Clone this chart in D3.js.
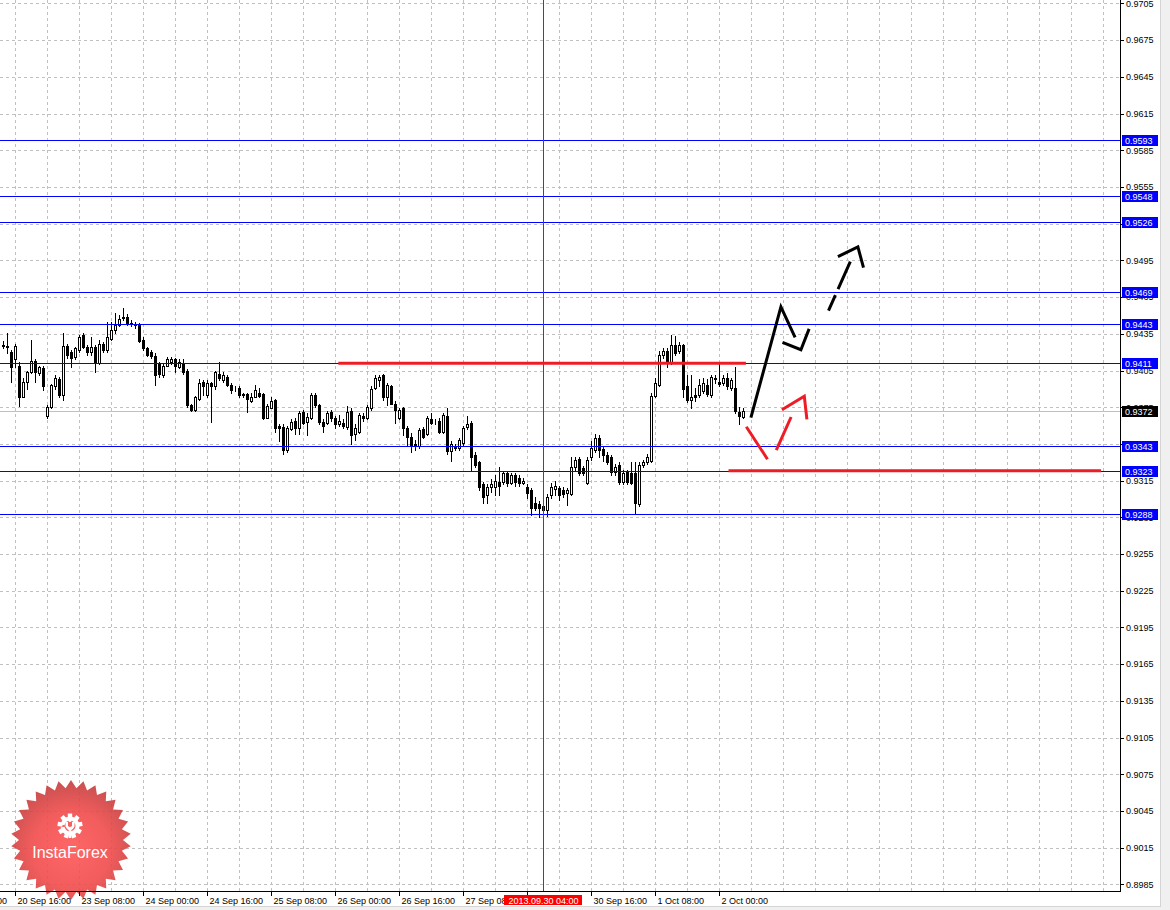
<!DOCTYPE html>
<html><head><meta charset="utf-8">
<script src="https://cdn.jsdelivr.net/npm/d3@7"></script>
<style>
html,body{margin:0;padding:0;background:#fff;overflow:hidden;}
svg{display:block;}
text{font-family:"Liberation Sans",Arial,sans-serif;}
</style></head><body>
<svg id="chart" width="1170" height="910"></svg>
<script>
// ---------- DATA (USDCHF H1) ----------
const opens = [
0.9425,0.9425,0.9420,0.9414,0.9409,0.9383,0.9396,0.9404,0.9413,0.9403,
0.9407,0.9368,0.9375,0.9392,0.9398,0.9385,0.9425,0.9420,0.9416,0.9422,
0.9434,0.9424,0.9420,0.9424,0.9411,0.9427,0.9422,0.9431,0.9438,0.9442,
0.9448,0.9449,0.9444,0.9443,0.9442,0.9430,0.9423,0.9420,0.9417,0.9410,
0.9401,0.9409,0.9412,0.9414,0.9408,0.9411,0.9405,0.9377,0.9373,0.9382,
0.9396,0.9385,0.9395,0.9392,0.9402,0.9397,0.9400,0.9393,0.9390,0.9391,
0.9386,0.9386,0.9380,0.9383,0.9387,0.9386,0.9366,0.9374,0.9381,0.9360,
0.9359,0.9340,0.9357,0.9364,0.9358,0.9371,0.9363,0.9366,0.9385,0.9377,
0.9363,0.9362,0.9371,0.9366,0.9361,0.9362,0.9359,0.9372,0.9353,0.9355,
0.9368,0.9366,0.9374,0.9391,0.9397,0.9401,0.9383,0.9392,0.9378,0.9366,
0.9374,0.9358,0.9351,0.9345,0.9343,0.9357,0.9353,0.9365,0.9363,0.9364,
0.9355,0.9368,0.9339,0.9343,0.9342,0.9346,0.9359,0.9362,0.9336,0.9330,
0.9312,0.9303,0.9310,0.9310,0.9314,0.9314,0.9321,0.9313,0.9320,0.9317,
0.9313,0.9310,0.9307,0.9297,0.9296,0.9294,0.9291,0.9303,0.9308,0.9309,
0.9307,0.9305,0.9304,0.9326,0.9333,0.9325,0.9313,0.9334,0.9340,0.9350,
0.9341,0.9336,0.9334,0.9322,0.9328,0.9314,0.9322,0.9321,0.9321,0.9296,
0.9328,0.9330,0.9331,0.9384,0.9393,0.9418,0.9421,0.9412,0.9426,0.9421,
0.9426,0.9392,0.9381,0.9385,0.9385,0.9388,0.9393,0.9385,0.9399,0.9396,
0.9395,0.9399,0.9391,0.9391,0.9371,0.9367];
const highs = [
0.9429,0.9436,0.9422,0.9427,0.9412,0.9399,0.9405,0.9430,0.9414,0.9409,
0.9409,0.9377,0.9394,0.9401,0.9400,0.9436,0.9427,0.9422,0.9424,0.9434,
0.9436,0.9426,0.9432,0.9426,0.9430,0.9428,0.9445,0.9445,0.9452,0.9450,
0.9456,0.9451,0.9446,0.9445,0.9444,0.9432,0.9424,0.9422,0.9419,0.9412,
0.9410,0.9416,0.9416,0.9415,0.9414,0.9414,0.9406,0.9378,0.9384,0.9398,
0.9397,0.9397,0.9396,0.9405,0.9412,0.9404,0.9401,0.9395,0.9392,0.9392,
0.9387,0.9387,0.9387,0.9393,0.9391,0.9387,0.9378,0.9383,0.9382,0.9361,
0.9361,0.9360,0.9365,0.9366,0.9372,0.9373,0.9370,0.9387,0.9387,0.9378,
0.9365,0.9372,0.9373,0.9368,0.9369,0.9365,0.9376,0.9374,0.9361,0.9370,
0.9370,0.9377,0.9392,0.9401,0.9401,0.9402,0.9395,0.9393,0.9380,0.9374,
0.9375,0.9360,0.9354,0.9348,0.9358,0.9359,0.9368,0.9370,0.9365,0.9366,
0.9370,0.9374,0.9347,0.9345,0.9350,0.9360,0.9368,0.9364,0.9338,0.9331,
0.9314,0.9312,0.9316,0.9320,0.9326,0.9323,0.9322,0.9321,0.9321,0.9320,
0.9317,0.9312,0.9309,0.9302,0.9298,0.9297,0.9304,0.9313,0.9315,0.9311,
0.9310,0.9309,0.9334,0.9334,0.9334,0.9327,0.9334,0.9347,0.9353,0.9352,
0.9343,0.9338,0.9336,0.9329,0.9330,0.9324,0.9324,0.9330,0.9330,0.9330,
0.9332,0.9337,0.9387,0.9399,0.9421,0.9423,0.9423,0.9434,0.9433,0.9428,
0.9427,0.9401,0.9401,0.9391,0.9398,0.9399,0.9398,0.9401,0.9401,0.9411,
0.9401,0.9403,0.9399,0.9408,0.9375,0.9374];
const lows = [
0.9423,0.9419,0.9396,0.9408,0.9376,0.9383,0.9390,0.9403,0.9396,0.9401,
0.9389,0.9366,0.9374,0.9390,0.9383,0.9381,0.9415,0.9408,0.9414,0.9420,
0.9423,0.9418,0.9418,0.9404,0.9410,0.9420,0.9420,0.9430,0.9436,0.9441,
0.9446,0.9442,0.9441,0.9440,0.9428,0.9422,0.9417,0.9415,0.9393,0.9400,
0.9400,0.9409,0.9410,0.9404,0.9407,0.9402,0.9375,0.9372,0.9372,0.9381,
0.9385,0.9383,0.9363,0.9390,0.9397,0.9396,0.9392,0.9387,0.9388,0.9383,
0.9383,0.9371,0.9379,0.9383,0.9383,0.9365,0.9366,0.9374,0.9355,0.9347,
0.9337,0.9338,0.9356,0.9353,0.9353,0.9361,0.9352,0.9365,0.9375,0.9361,
0.9355,0.9361,0.9364,0.9358,0.9360,0.9358,0.9357,0.9345,0.9348,0.9354,
0.9364,0.9365,0.9373,0.9390,0.9392,0.9381,0.9377,0.9378,0.9362,0.9365,
0.9352,0.9344,0.9338,0.9340,0.9342,0.9350,0.9352,0.9361,0.9361,0.9354,
0.9354,0.9337,0.9331,0.9340,0.9340,0.9344,0.9357,0.9324,0.9326,0.9307,
0.9297,0.9297,0.9306,0.9303,0.9303,0.9312,0.9311,0.9312,0.9311,0.9311,
0.9312,0.9301,0.9287,0.9291,0.9285,0.9285,0.9286,0.9301,0.9303,0.9299,
0.9302,0.9295,0.9303,0.9324,0.9320,0.9320,0.9312,0.9332,0.9338,0.9334,
0.9331,0.9329,0.9320,0.9320,0.9312,0.9312,0.9312,0.9312,0.9288,0.9294,
0.9326,0.9329,0.9330,0.9383,0.9392,0.9415,0.9408,0.9410,0.9418,0.9419,
0.9383,0.9379,0.9374,0.9380,0.9383,0.9387,0.9384,0.9383,0.9395,0.9392,
0.9393,0.9390,0.9389,0.9370,0.9361,0.9366];
const closes = [
0.9426,0.9424,0.9408,0.9425,0.9383,0.9396,0.9404,0.9413,0.9404,0.9408,
0.9392,0.9375,0.9393,0.9399,0.9385,0.9425,0.9418,0.9415,0.9423,0.9432,
0.9424,0.9420,0.9424,0.9411,0.9427,0.9422,0.9432,0.9438,0.9442,0.9447,
0.9449,0.9444,0.9443,0.9442,0.9429,0.9423,0.9418,0.9417,0.9401,0.9402,
0.9409,0.9414,0.9414,0.9409,0.9412,0.9404,0.9377,0.9373,0.9383,0.9395,
0.9392,0.9395,0.9392,0.9404,0.9399,0.9401,0.9393,0.9389,0.9390,0.9385,
0.9385,0.9382,0.9383,0.9389,0.9384,0.9366,0.9376,0.9380,0.9358,0.9358,
0.9340,0.9358,0.9363,0.9358,0.9370,0.9362,0.9367,0.9385,0.9377,0.9363,
0.9360,0.9370,0.9366,0.9361,0.9364,0.9360,0.9371,0.9352,0.9358,0.9369,
0.9366,0.9375,0.9390,0.9399,0.9400,0.9383,0.9393,0.9378,0.9373,0.9373,
0.9358,0.9351,0.9344,0.9343,0.9356,0.9351,0.9366,0.9362,0.9363,0.9355,
0.9369,0.9339,0.9345,0.9342,0.9348,0.9358,0.9361,0.9334,0.9328,0.9310,
0.9302,0.9310,0.9312,0.9315,0.9311,0.9321,0.9313,0.9320,0.9314,0.9313,
0.9315,0.9305,0.9293,0.9293,0.9293,0.9291,0.9302,0.9310,0.9311,0.9303,
0.9304,0.9307,0.9326,0.9332,0.9321,0.9321,0.9332,0.9342,0.9350,0.9340,
0.9336,0.9330,0.9322,0.9326,0.9314,0.9321,0.9314,0.9313,0.9297,0.9328,
0.9330,0.9334,0.9384,0.9395,0.9418,0.9421,0.9413,0.9426,0.9419,0.9426,
0.9390,0.9381,0.9383,0.9383,0.9393,0.9395,0.9386,0.9400,0.9398,0.9394,
0.9399,0.9392,0.9397,0.9372,0.9368,0.9372];

const priceTicks = [0.9705,0.9675,0.9645,0.9615,0.9585,0.9555,0.9525,0.9495,0.9465,0.9435,
  0.9405,0.9375,0.9345,0.9315,0.9285,0.9255,0.9225,0.9195,0.9165,0.9135,0.9105,0.9075,0.9045,0.9015,0.8985];
// bar index of each labelled time tick (bar 0 = 20 Sep 13:00)
const timeTickBars   = [-13, 3, 19, 35, 51, 67, 83, 99, 115, 147, 163, 179];
const timeTickLabels = ["20 Sep 00:00","20 Sep 16:00","23 Sep 08:00","24 Sep 00:00","24 Sep 16:00",
  "25 Sep 08:00","26 Sep 00:00","26 Sep 16:00","27 Sep 08:00","30 Sep 16:00","1 Oct 08:00","2 Oct 00:00"];
const hiddenTickBars = [131];   // "30 Sep 00:00" covered by the marker label
const levels = [0.9593,0.9548,0.9526,0.9469,0.9443,0.9411,0.9343,0.9323,0.9288];
const bidPrice = 0.9372;
const markerBar = 135;
const markerLabel = "2013.09.30 04:00";
// annotations: [bar, price]
const redSegments = [[[83.7,0.9411],[185.6,0.9411]],[[181.25,0.9323],[274.4,0.9323]]];
const blackStroke = [[186.85,0.93665],[194.35,0.9457],[197.9,0.9432]];
const blackHead = [[194.75,0.9428],[199.35,0.9422],[201.4,0.9439]];
const blackDashed = [[206.25,0.9454],[211.7,0.9494]];
const blackDashedHead = [[208.6,0.9498],[213.6,0.9506],[215.0,0.9489]];
const redDown = [[185.7,0.9359],[191.0,0.93325]];
const redUp = [[193.2,0.9340],[196.9,0.9367]];
const redHead = [[194.6,0.9373],[200.2,0.9384],[200.85,0.9365]];

// ---------- LAYOUT ----------
const plotRight = 1120, plotBottom = 891;
const svg = d3.select("#chart");
const x = d3.scaleLinear().domain([0,185]).range([3.5,743.5]);
const y = d3.scaleLinear().domain([0.8985,0.9705]).range([884.46,3.4]);
const py = p => Math.round(y(p)) + 0.5;

// window chrome
svg.append("rect").attr("x",0).attr("y",0).attr("width",1170).attr("height",910).attr("fill","#fff");
svg.append("rect").attr("x",1161).attr("y",0).attr("width",9).attr("height",910).attr("fill","#f0f0f0");
svg.append("line").attr("x1",1160.5).attr("x2",1160.5).attr("y1",0).attr("y2",907).attr("stroke","#d4d4d4");
svg.append("rect").attr("x",0).attr("y",907).attr("width",1170).attr("height",3).attr("fill","#f0f0f0");
svg.append("line").attr("x1",0).attr("x2",1161).attr("y1",906.5).attr("y2",906.5).attr("stroke","#d4d4d4");

const plot = svg.append("g");
// grid
const gridBars = d3.range(-5, 276, 8);
plot.selectAll(".vg").data(gridBars).join("line")
  .attr("x1",d=>x(d)).attr("x2",d=>x(d)).attr("y1",0).attr("y2",plotBottom)
  .attr("stroke","#c0c0c0").attr("stroke-dasharray","3,3");
plot.selectAll(".hg").data(priceTicks).join("line")
  .attr("x1",0).attr("x2",plotRight).attr("y1",d=>py(d)).attr("y2",d=>py(d))
  .attr("stroke","#c0c0c0").attr("stroke-dasharray","3,3");

// bid line
plot.append("line").attr("x1",0).attr("x2",plotRight).attr("y1",py(bidPrice)).attr("y2",py(bidPrice))
  .attr("stroke","#c0c0c0");

// candles
const bars = d3.range(opens.length).map(i=>({i,o:opens[i],h:highs[i],l:lows[i],c:closes[i]}));
const cg = plot.append("g");
cg.selectAll(".wick").data(bars).join("line")
  .attr("x1",d=>x(d.i)).attr("x2",d=>x(d.i))
  .attr("y1",d=>Math.round(y(d.h))).attr("y2",d=>Math.round(y(d.l))+1)
  .attr("stroke","#000");
cg.selectAll(".body").data(bars).join("rect")
  .attr("x",d=>x(d.i)-1).attr("width",2)
  .attr("y",d=>Math.round(y(Math.max(d.o,d.c)))+0.5)
  .attr("height",d=>Math.max(0,Math.round(y(Math.min(d.o,d.c)))-Math.round(y(Math.max(d.o,d.c)))))
  .attr("fill",d=>d.c>=d.o?"#fff":"#000").attr("stroke","#000");

// level lines
plot.selectAll(".lv").data(levels).join("line")
  .attr("x1",0).attr("x2",plotRight).attr("y1",d=>py(d)).attr("y2",d=>py(d)).attr("stroke","#0000ff");

// vertical marker
plot.append("line").attr("x1",x(markerBar)).attr("x2",x(markerBar)).attr("y1",0).attr("y2",plotBottom)
  .attr("stroke","#ff0000");

// annotations
const line = d3.line().x(d=>x(d[0])).y(d=>y(d[1]));
const ag = plot.append("g").attr("fill","none").attr("stroke-linecap","butt").attr("stroke-linejoin","miter");
redSegments.forEach(s=>ag.append("path").attr("d",line(s)).attr("stroke","#ee1c25").attr("stroke-width",3));
[blackStroke,blackHead,blackDashedHead].forEach(s=>ag.append("path").attr("d",line(s)).attr("stroke","#000").attr("stroke-width",3));
ag.append("path").attr("d",line(blackDashed)).attr("stroke","#000").attr("stroke-width",3).attr("stroke-dasharray","17,6.5,40");
[redDown,redUp,redHead].forEach(s=>ag.append("path").attr("d",line(s)).attr("stroke","#ee1c25").attr("stroke-width",3));

// logo (InstaForex starburst)
const defs = svg.append("defs");
const grad = defs.append("radialGradient").attr("id","lg").attr("cx","50%").attr("cy","58%").attr("r","55%");
grad.append("stop").attr("offset","0%").attr("stop-color","#ff5656");
grad.append("stop").attr("offset","60%").attr("stop-color","#f04a4a");
grad.append("stop").attr("offset","100%").attr("stop-color","#c83e3e");
const lc = [71,840], nPts = 30, Ro = 60, Ri = 52;
const starPts = d3.range(nPts*2).map(k=>{const a = k*Math.PI/nPts - Math.PI/2; const r = k%2? Ri:Ro; return [lc[0]+r*Math.cos(a), lc[1]+r*Math.sin(a)];});
const logo = svg.append("g").attr("opacity",0.9);
logo.append("path").attr("d","M"+starPts.join("L")+"Z").attr("fill","url(#lg)");
// gear icon
const gc = [70,826];
const gear = svg.append("g").attr("transform",`translate(${gc[0]},${gc[1]})`).attr("fill","#fff");
const teeth = 9;
d3.range(teeth).forEach(k=>{
  gear.append("rect").attr("x",-2.2).attr("y",-12.5).attr("width",4.4).attr("height",5)
    .attr("transform",`rotate(${k*360/teeth})`);
});
gear.append("path").attr("d",d3.arc().innerRadius(5.5).outerRadius(9.5).startAngle(0.55*Math.PI).endAngle(2.45*Math.PI)()).attr("transform","rotate(180)");
gear.append("path").attr("d","M-4.5,-4 L-2,-4 L-2,0 Q0,2 2,0 L2,-4 L4.5,-4 L4.5,0.5 Q3,3.5 1.3,4 L1.3,12 L-1.3,12 L-1.3,4 Q-3,3.5 -4.5,0.5 Z");
gear.append("circle").attr("cx",0).attr("cy",-5.5).attr("r",1.6);
svg.append("text").attr("x",70).attr("y",858).attr("text-anchor","middle").attr("fill","#fff")
  .attr("font-size",16).text("InstaForex");

// frame
svg.append("line").attr("x1",plotRight+0.5).attr("x2",plotRight+0.5).attr("y1",0).attr("y2",plotBottom+1).attr("stroke","#000");
svg.append("line").attr("x1",0).attr("x2",plotRight+1).attr("y1",plotBottom+0.5).attr("y2",plotBottom+0.5).attr("stroke","#000");

// price axis
const pa = svg.append("g");
pa.selectAll(".pt").data(priceTicks).join("line")
  .attr("x1",plotRight+1).attr("x2",plotRight+4).attr("y1",d=>py(d)).attr("y2",d=>py(d)).attr("stroke","#000");
pa.selectAll(".pl").data(priceTicks).join("text")
  .attr("x",1126).attr("y",d=>Math.max(7,y(d)+3.3)).attr("font-size",9).attr("fill","#000")
  .text(d=>d.toFixed(4));

// time axis
const ta = svg.append("g");
ta.selectAll(".tt").data(timeTickBars.concat(hiddenTickBars)).join("line")
  .attr("x1",d=>x(d)).attr("x2",d=>x(d)).attr("y1",plotBottom+1).attr("y2",plotBottom+5).attr("stroke","#000");
ta.selectAll(".tl").data(timeTickBars).join("text")
  .attr("x",d=>x(d)+2).attr("y",903.5).attr("font-size",9).attr("fill","#000")
  .text((d,i)=>timeTickLabels[i]);

// level labels
const lab = svg.append("g");
lab.selectAll(".lb").data(levels).join("rect")
  .attr("x",1122).attr("width",36).attr("y",d=>Math.round(y(d))-5).attr("height",11).attr("fill","#0000ff");
lab.selectAll(".lt").data(levels).join("text")
  .attr("x",1125).attr("y",d=>Math.round(y(d))+4).attr("font-size",9).attr("fill","#fff").text(d=>d.toFixed(4));
lab.append("rect").attr("x",1122).attr("width",36).attr("y",Math.round(y(bidPrice))-5).attr("height",11).attr("fill","#000");
lab.append("text").attr("x",1125).attr("y",Math.round(y(bidPrice))+4).attr("font-size",9).attr("fill","#fff").text(bidPrice.toFixed(4));

// marker label
const mx = x(markerBar);
svg.append("rect").attr("x",mx-39.5).attr("y",895).attr("width",78).attr("height",10).attr("fill","#ff0000");
svg.append("text").attr("x",mx).attr("y",903.5).attr("text-anchor","middle").attr("font-size",9).attr("fill","#fff").text(markerLabel);
</script></body></html>
